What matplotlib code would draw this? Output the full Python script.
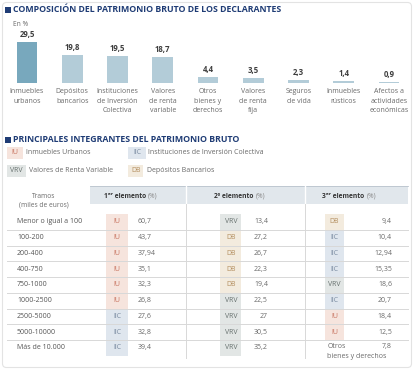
import matplotlib
matplotlib.use("Agg")
import matplotlib.pyplot as plt
from matplotlib.patches import Rectangle, FancyBboxPatch

plt.rcParams['font.family'] = ['Open Sans', 'DejaVu Sans']

# ---------------- data ----------------
categories = ["Inmuebles\nurbanos", "Depósitos\nbancarios", "Instituciones\nde Inversión\nColectiva",
              "Valores\nde renta\nvariable", "Otros\nbienes y\nderechos", "Valores\nde renta\nfija",
              "Seguros\nde vida", "Inmuebles\nrústicos", "Afectos a\nactividades\neconómicas"]
shares = [29.5, 19.8, 19.5, 18.7, 4.4, 3.5, 2.3, 1.4, 0.9]

legend_codes = ["IU", "IIC", "VRV", "DB"]
legend_names = ["Inmuebles Urbanos", "Instituciones de Inversión Colectiva",
                "Valores de Renta Variable", "Depósitos Bancarios"]

tramos = ["Menor o igual a 100", "100-200", "200-400", "400-750", "750-1000",
          "1000-2500", "2500-5000", "5000-10000", "Más de 10.000"]
e1_tag = ["IU", "IU", "IU", "IU", "IU", "IU", "IIC", "IIC", "IIC"]
e1_val = [60.7, 43.7, 37.94, 35.1, 32.3, 26.8, 27.6, 32.8, 39.4]
e2_tag = ["VRV", "DB", "DB", "DB", "DB", "VRV", "VRV", "VRV", "VRV"]
e2_val = [13.4, 27.2, 26.7, 22.3, 19.4, 22.5, 27, 30.5, 35.2]
e3_tag = ["DB", "IIC", "IIC", "IIC", "VRV", "IIC", "IU", "IU", None]
e3_val = [9.4, 10.4, 12.94, 15.35, 18.6, 20.7, 18.4, 12.5, 7.8]
headers = ["1ᵉʳ elemento", "2º elemento", "3ᵉʳ elemento"]

# ---------------- styles ----------------
NAVY = "#1f3c75"
GRAY = "#6a6a6a"
tag_bg = {"IU": "#f6e4dd", "IIC": "#dfe6ee", "VRV": "#e2e6e5", "DB": "#f3ebde"}
tag_fg = {"IU": "#c8735f", "IIC": "#7b8ca2", "VRV": "#67716f", "DB": "#b38d5e"}

W, H = 414, 370
fig = plt.figure(figsize=(W / 100, H / 100), dpi=100)
fig.patch.set_facecolor("white")

# overlay axes in pixel coordinates
ov = fig.add_axes([0, 0, 1, 1])
ov.set_xlim(0, W)
ov.set_ylim(H, 0)
ov.axis("off")

ov.add_patch(FancyBboxPatch((2.5, 2.5), W - 5, H - 5, boxstyle="round,pad=0,rounding_size=4",
                            fc="none", ec="#e3e3e3", lw=0.8))

def section_title(y, text):
    ov.add_patch(Rectangle((5, y - 3), 6, 6, color=NAVY, lw=0))
    ov.text(13.5, y, text, color=NAVY, fontsize=6.3, fontweight="bold", va="center", ha="left")

section_title(10, "COMPOSICIÓN DEL PATRIMONIO BRUTO DE LOS DECLARANTES")
ov.text(13, 24, "En %", color=GRAY, fontsize=4.8, va="center", ha="left")

# ---------------- bar chart ----------------
step = 45.25
x0 = 27 - 0.5 * step
base_y = 83
ppu = 1.39  # pixels per percent
ymax = 31
bx = fig.add_axes([x0 / W, (H - base_y) / H, 9 * step / W, ymax * ppu / H])
xs = list(range(len(shares)))
colors = ["#78a8bd"] + ["#b3ccd8"] * (len(shares) - 1)
bx.bar(xs, shares, width=0.46, color=colors)
bx.set_xlim(-0.5, len(shares) - 0.5)
bx.set_ylim(0, ymax)
bx.axis("off")
for i, v in enumerate(shares):
    bx.annotate(f"{v:g}".replace(".", ","), (i, v), xytext=(0, 3), textcoords="offset pixels",
                ha="center", va="bottom", fontsize=5.6, fontweight="bold", color="#3f3f3f")
    bx.annotate(categories[i], (i, 0), xytext=(0, -5), textcoords="offset pixels",
                ha="center", va="top", fontsize=5.0, color=GRAY, linespacing=1.55)

# ---------------- legend ----------------
section_title(139.5, "PRINCIPALES INTEGRANTES DEL PATRIMONIO BRUTO")

def tag(xc, yc, code, w, h, fs=5.0):
    ov.add_patch(Rectangle((xc - w / 2, yc - h / 2), w, h, color=tag_bg[code], lw=0))
    ov.text(xc, yc, code, color=tag_fg[code], fontsize=fs, ha="center", va="center")

leg_pos = [(15, 153, 16, 26.5), (137, 153, 18, 148), (16.5, 171, 19, 29.5), (136, 171, 15, 147.5)]
for code, name, (xc, yc, w, tx) in zip(legend_codes, legend_names, leg_pos):
    tag(xc, yc, code, w, 12)
    ov.text(tx, yc, name, color=GRAY, fontsize=5.0, ha="left", va="center")

# ---------------- table ----------------
hdr_top, hdr_bot = 186, 204
ov.add_patch(Rectangle((90, hdr_top), 318, hdr_bot - hdr_top, color="#e1e7ec", lw=0))
ov.plot([90, 408], [hdr_top, hdr_top], color="#b9c3cc", lw=0.6)
ov.text(44, 196.5, "Tramos", color=GRAY, fontsize=4.8, ha="center", va="center")
ov.text(44, 205, "(miles de euros)", color=GRAY, fontsize=4.8, ha="center", va="center")

col_bounds = [(90, 186), (186, 305), (305, 408)]
for (a, b), h in zip(col_bounds, headers):
    cx = (a + b) / 2
    ov.text(cx + 8, 196, h, color="#333333", fontsize=4.8, fontweight="bold", ha="right", va="center")
    ov.text(cx + 10, 196, "(%)", color="#8a8a8a", fontsize=4.8, ha="left", va="center")

row_top = 214
row_h = 15.75
n = len(tramos)
table_bot = row_top + n * row_h

# tag cells
cols = [(e1_tag, e1_val, 117, 22, 138, "left"),
        (e2_tag, e2_val, 231, 21, 268, "right"),
        (e3_tag, e3_val, 334.5, 19, 392, "right")]
for tags, vals, tx, tw, vx, vha in cols:
    for i, (t, v) in enumerate(zip(tags, vals)):
        yc = row_top + (i + 0.5) * row_h
        sval = f"{v:g}".replace(".", ",")
        if t is None:
            ov.text(tx - 7, yc - 1, "Otros", color=GRAY, fontsize=5.0, ha="left", va="center")
            ov.text(tx - 7, yc + 8.5, "bienes y derechos", color=GRAY, fontsize=5.0,
                    ha="left", va="center")
            ov.text(vx, yc - 1, sval, color=GRAY, fontsize=5.0, ha=vha, va="center")
            continue
        ov.add_patch(Rectangle((tx - tw / 2, yc - row_h / 2), tw, row_h, color=tag_bg[t], lw=0))
        ov.text(tx, yc, t, color=tag_fg[t], fontsize=5.0, ha="center", va="center")
        ov.text(vx, yc, sval, color=GRAY, fontsize=5.0, ha=vha, va="center")

for i, name in enumerate(tramos):
    yc = row_top + (i + 0.5) * row_h
    ov.text(17, yc, name, color="#555555", fontsize=5.0, ha="left", va="center")

for i in range(1, n):
    y = row_top + i * row_h
    ov.plot([7, 408], [y, y], color="#d8d8d8", lw=0.7)

for x in [186, 305]:
    ov.plot([x, x], [hdr_top, hdr_bot], color="white", lw=1.0)
    ov.plot([x, x], [hdr_bot, table_bot + 2], color="#d8d8d8", lw=0.7)

fig.savefig("out.png", dpi=100, facecolor="white")
